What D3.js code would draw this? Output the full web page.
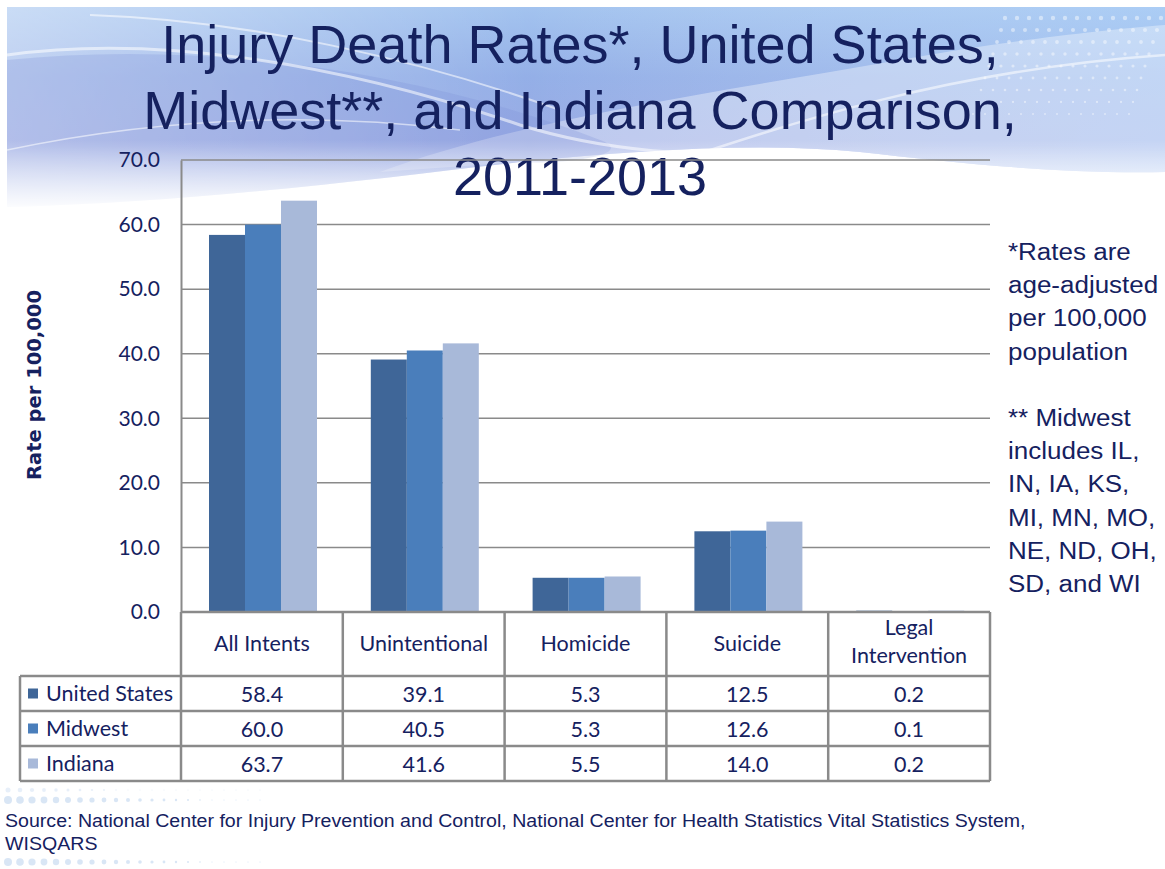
<!DOCTYPE html>
<meta charset="utf-8">
<script src="https://d3js.org/d3.v7.min.js"></script>
<style>
  body { margin: 0; background: #fff; }
  svg { display: block; }
</style>
<body>
<div id="chart"></div>
<script>
// ---- data ----
const categories = ["All Intents", "Unintentional", "Homicide", "Suicide", "Legal Intervention"];
const seriesNames = ["United States", "Midwest", "Indiana"];
const usValues = [58.4, 39.1, 5.3, 12.5, 0.2];
const midwestValues = [60.0, 40.5, 5.3, 12.6, 0.1];
const indianaValues = [63.7, 41.6, 5.5, 14.0, 0.2];
const yTicks = [0, 10, 20, 30, 40, 50, 60, 70];
const titleLines = ["Injury Death Rates*, United States,", "Midwest**, and Indiana Comparison,", "2011-2013"];
const noteLines = ["*Rates are", "age-adjusted", "per 100,000", "population", "", "** Midwest", "includes IL,", "IN, IA, KS,", "MI, MN, MO,", "NE, ND, OH,", "SD, and WI"];
const sourceLines = ["Source: National Center for Injury Prevention and Control, National Center for Health Statistics Vital Statistics System,", "WISQARS"];

const seriesValues = [usValues, midwestValues, indianaValues];
const colors = ["#3f6698", "#4a7ebb", "#a8b9d9"];
const navy = "#15215f";
const gridColor = "#8a8a8a";

const W = 1165, H = 869;
const plot = {left: 181, right: 990, top: 160, bottom: 612};
const rowH = 35, headerH = 64, tableLeft = 20;
const tableFont = "Lato, Open Sans, sans-serif";

const svg = d3.select("#chart").append("svg")
  .attr("width", W).attr("height", H);

// ---- background swoosh ----
const defs = svg.append("defs");
const g1 = defs.append("linearGradient").attr("id", "bg1")
  .attr("x1", 0).attr("y1", 0).attr("x2", 0).attr("y2", 1);
g1.append("stop").attr("offset", "0%").attr("stop-color", "#9ec0ee");
g1.append("stop").attr("offset", "35%").attr("stop-color", "#8eabe6");
g1.append("stop").attr("offset", "70%").attr("stop-color", "#95a6e3");
g1.append("stop").attr("offset", "100%").attr("stop-color", "#c9d6f3");

const g2 = defs.append("linearGradient").attr("id", "bg2")
  .attr("x1", 0).attr("y1", 0).attr("x2", 1).attr("y2", 0);
g2.append("stop").attr("offset", "0%").attr("stop-color", "#ffffff").attr("stop-opacity", 0.45);
g2.append("stop").attr("offset", "45%").attr("stop-color", "#ffffff").attr("stop-opacity", 0.05);
g2.append("stop").attr("offset", "100%").attr("stop-color", "#bfe0ff").attr("stop-opacity", 0.4);

const g3 = defs.append("linearGradient").attr("id", "fade")
  .attr("x1", 0).attr("y1", 0).attr("x2", 0).attr("y2", 1);
g3.append("stop").attr("offset", "0%").attr("stop-color", "#ffffff").attr("stop-opacity", 0);
g3.append("stop").attr("offset", "100%").attr("stop-color", "#ffffff").attr("stop-opacity", 1);

const swoosh = "M7,7 H1165 V172 C1050,174 950,162 860,152 C760,142 640,150 520,162 C380,178 200,202 7,207 Z";
const bg = svg.append("g");
bg.append("path").attr("d", swoosh).attr("fill", "url(#bg1)");
bg.append("path").attr("d", swoosh).attr("fill", "url(#bg2)");
// lighter wedge on the middle / right
bg.append("path")
  .attr("d", "M380,172 C520,120 700,95 900,60 C1000,42 1100,30 1165,25 V172 C1050,174 950,162 860,152 C760,142 640,150 520,162 Z")
  .attr("fill", "#ffffff").attr("opacity", 0.35);
bg.append("path")
  .attr("d", "M7,60 C200,40 420,70 600,140 C640,155 560,165 520,162 C380,178 200,202 7,207 Z")
  .attr("fill", "#7c8ed8").attr("opacity", 0.25);
// white streaks
[["M7,55 C150,35 330,60 520,125 C600,150 700,160 800,150", 3],
 ["M90,15 C250,20 420,60 560,110", 2],
 ["M650,170 C800,120 950,70 1165,55", 2.5],
 ["M7,150 C150,120 300,110 460,130", 1.5]].forEach(([d, w]) => {
  bg.append("path").attr("d", d).attr("fill", "none")
    .attr("stroke", "#ffffff").attr("stroke-width", w).attr("opacity", 0.55);
});
// fade band at the bottom edge
bg.append("rect").attr("x", 7).attr("y", 140).attr("width", W - 7).attr("height", 72)
  .attr("fill", "url(#fade)");

// decorative dots (top right and bottom left)
const dots = bg.append("g").attr("fill", "#ffffff").attr("opacity", 0.45);
for (let r = 0; r < 9; r++) {
  for (let c = 0; c < 14; c++) {
    const dx = 1005 + c * 12 - r * 4, dy = 18 + r * 12;
    if (dx < 1165) dots.append("circle").attr("cx", dx).attr("cy", dy).attr("r", 2.2 - r * 0.15);
  }
}
const dots2 = bg.append("g").attr("fill", "#cfe0f3");
[800, 862, 790].forEach((dy, r) => {
  for (let c = 0; c < 22; c++) {
    const rad = Math.max(0.6, 4 - c * 0.2 - (r === 2 ? 1.5 : 0));
    dots2.append("circle").attr("cx", 8 + c * 12).attr("cy", dy).attr("r", rad)
      .attr("opacity", r === 2 ? 0.5 : 0.8);
  }
});

// ---- title ----
svg.append("g").selectAll("text")
  .data(titleLines).join("text")
  .attr("x", 580).attr("y", (d, i) => 63 + i * 66)
  .attr("text-anchor", "middle")
  .attr("font-family", "Liberation Sans, Arial, sans-serif")
  .attr("font-size", 54)
  .attr("fill", navy)
  .text(d => d);

// ---- scales ----
const x = d3.scaleBand().domain(categories).range([plot.left, plot.right]);
const x1 = d3.scaleBand().domain(seriesNames).range([28, 136]);
const y = d3.scaleLinear().domain([0, 70]).range([plot.bottom, plot.top]);

// gridlines
svg.append("g").selectAll("line")
  .data(yTicks.filter(t => t > 0)).join("line")
  .attr("x1", plot.left).attr("x2", plot.right)
  .attr("y1", d => y(d)).attr("y2", d => y(d))
  .attr("stroke", gridColor).attr("stroke-width", 1.5);

// y axis
const yAxis = svg.append("g")
  .attr("transform", `translate(${plot.left},0)`)
  .call(d3.axisLeft(y).tickValues(yTicks).tickFormat(d3.format(".1f")).tickSize(0).tickPadding(21));
yAxis.select(".domain").attr("stroke", gridColor).attr("stroke-width", 2);
yAxis.selectAll("text")
  .attr("font-family", tableFont)
  .attr("font-size", 21).attr("fill", navy);

svg.append("text")
  .attr("transform", "translate(41,385) rotate(-90)")
  .attr("text-anchor", "middle")
  .attr("font-family", "DejaVu Sans, sans-serif")
  .attr("font-weight", "bold")
  .attr("font-size", 19.5)
  .attr("fill", navy)
  .text("Rate per 100,000");

// bars
const groups = svg.append("g").selectAll("g")
  .data(categories).join("g")
  .attr("transform", d => `translate(${x(d)},0)`);
groups.selectAll("rect")
  .data((d, i) => seriesNames.map((s, j) => ({s, j, v: seriesValues[j][i]})))
  .join("rect")
  .attr("x", d => x1(d.s))
  .attr("width", x1.bandwidth())
  .attr("y", d => y(d.v))
  .attr("height", d => y(0) - y(d.v))
  .attr("fill", d => colors[d.j]);

// ---- data table ----
const table = svg.append("g")
  .attr("font-family", tableFont)
  .attr("fill", navy);
const tableTop = plot.bottom;
const rowsTop = tableTop + headerH;
const tableBottom = rowsTop + rowH * seriesNames.length;
const lineStyle = sel => sel.attr("stroke", gridColor).attr("stroke-width", 2.5);

// horizontal lines
table.append("line").attr("x1", plot.left).attr("x2", plot.right)
  .attr("y1", tableTop).attr("y2", tableTop).call(lineStyle);
d3.range(seriesNames.length + 1).forEach(i => {
  table.append("line").attr("x1", tableLeft).attr("x2", plot.right)
    .attr("y1", rowsTop + i * rowH).attr("y2", rowsTop + i * rowH).call(lineStyle);
});
// vertical lines
table.append("line").attr("x1", tableLeft).attr("x2", tableLeft)
  .attr("y1", rowsTop).attr("y2", tableBottom).call(lineStyle);
categories.forEach(c => {
  table.append("line").attr("x1", x(c)).attr("x2", x(c))
    .attr("y1", tableTop).attr("y2", tableBottom).call(lineStyle);
});
table.append("line").attr("x1", plot.right).attr("x2", plot.right)
  .attr("y1", tableTop).attr("y2", tableBottom).call(lineStyle);

// header labels
categories.forEach(c => {
  const words = c === "Legal Intervention" ? ["Legal", "Intervention"] : [c];
  const t = table.append("text")
    .attr("text-anchor", "middle")
    .attr("font-size", 21.5);
  words.forEach((w, k) => {
    t.append("tspan")
      .attr("x", x(c) + x.bandwidth() / 2)
      .attr("y", tableTop + (words.length === 1 ? 39 : 23 + k * 28))
      .text(w);
  });
});

// rows
seriesNames.forEach((s, j) => {
  const cy = rowsTop + j * rowH + rowH / 2;
  table.append("rect").attr("x", 28).attr("y", cy - 5).attr("width", 10).attr("height", 10)
    .attr("fill", colors[j]);
  table.append("text").attr("x", 46).attr("y", cy + 7)
    .attr("font-size", 21.5).text(s);
  categories.forEach((c, i) => {
    table.append("text")
      .attr("x", x(c) + x.bandwidth() / 2).attr("y", cy + 8)
      .attr("text-anchor", "middle").attr("font-size", 21.5)
      .text(d3.format(".1f")(seriesValues[j][i]));
  });
});

// ---- notes on the right (slightly stretched, like the slide) ----
svg.append("g")
  .attr("transform", "translate(1008,0) scale(1.13,1)")
  .selectAll("text")
  .data(noteLines).join("text")
  .attr("x", 0).attr("y", (d, i) => 260 + i * 33.2)
  .attr("font-family", "Liberation Sans, Arial, sans-serif")
  .attr("font-size", 23)
  .attr("fill", navy)
  .text(d => d);

// ---- source ----
svg.append("g")
  .attr("transform", "translate(5,0) scale(1.12,1)")
  .selectAll("text")
  .data(sourceLines).join("text")
  .attr("x", 0).attr("y", (d, i) => 827 + i * 23)
  .attr("font-family", "Liberation Sans, Arial, sans-serif")
  .attr("font-size", 17.5)
  .attr("fill", navy)
  .text(d => d);
</script>
</body>
